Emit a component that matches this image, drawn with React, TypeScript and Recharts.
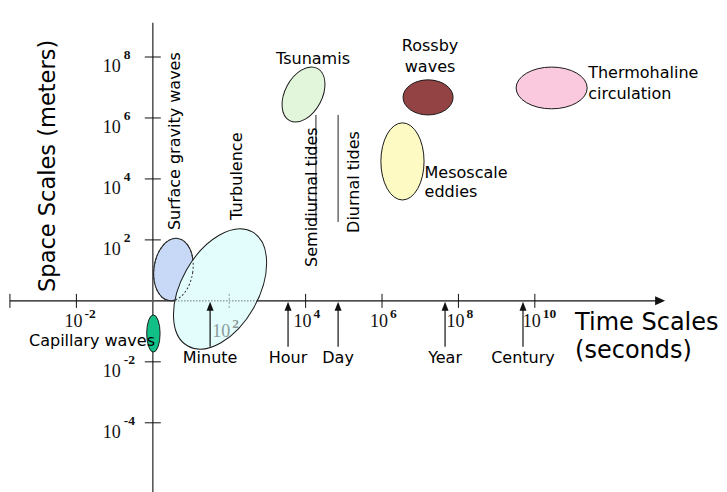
import React from 'react';
import { ComposedChart, XAxis, YAxis, ReferenceArea, ReferenceLine, ReferenceDot, Scatter } from 'recharts';

// ---- scales (log10 units) ----
const X_DOMAIN: [number, number] = [-4, 15.03];
const Y_DOMAIN: [number, number] = [-6.27, 9.87];
const timeAxisRange = [-3.74, 13.41];
const spaceAxisRange = [-6.27, 9.12];

// ---- phenomena: log10 time range (s) and log10 space range (m) ----
const phenomena = [
  'Surface gravity waves',
  'Turbulence',
  'Capillary waves',
  'Tsunamis',
  'Rossby waves',
  'Thermohaline circulation',
  'Mesoscale eddies',
];
const timeMin = [0.03, 0.75, -0.16, 3.46, 6.55, 9.51, 5.97];
const timeMax = [1.05, 2.77, 0.19, 4.43, 7.86, 11.37, 7.1];
const spaceMin = [0.0, -1.76, -1.68, 5.8, 6.1, 6.3, 3.31];
const spaceMax = [2.06, 2.54, -0.46, 7.74, 7.25, 7.67, 5.84];

// ---- tides (vertical bars) ----
const tides = ['Semidiurnal tides', 'Diurnal tides'];
const tideTime = [4.27, 4.85];
const tideSpaceMin = [2.59, 2.59];
const tideSpaceMax = [6.1, 6.1];

// ---- time markers ----
const markers = ['Minute', 'Hour', 'Day', 'Year', 'Century'];
const markerTime = [1.5, 3.54, 4.85, 7.65, 9.69];

// ---- ticks ----
const xTickValues = [-2, 2, 4, 6, 8, 10];
const xTickLabels = ['-2', '2', '4', '6', '8', '10'];
const yTickValues = [8, 6, 4, 2, -2, -4];
const yTickLabels = ['8', '6', '4', '2', '-2', '-4'];
const mutedXTicks = [2];

// ---- styles ----
const SANS = '"DejaVu Sans", Verdana, sans-serif';
const SERIF = '"Liberation Serif", "DejaVu Serif", serif';

const ellipseStyle: Record<string, { fill: string; rotate: number }> = {
  'Surface gravity waves': { fill: '#c7d9f6', rotate: 8 },
  Turbulence: { fill: '#e3fcfc', rotate: 29.5 },
  'Capillary waves': { fill: '#12bf86', rotate: 0 },
  Tsunamis: { fill: '#e2f6dc', rotate: 28 },
  'Rossby waves': { fill: '#934343', rotate: 0 },
  'Thermohaline circulation': { fill: '#fbc9dd', rotate: 0 },
  'Mesoscale eddies': { fill: '#fdfac3', rotate: 0 },
};

type LabelSpec = {
  lines: string[];
  anchor: 'top' | 'right' | 'center';
  dx: number;
  dy: number[];
  rotate?: number;
  textAnchor: 'start' | 'middle' | 'end';
};

const labelStyle: Record<string, LabelSpec> = {
  'Surface gravity waves': { lines: ['Surface gravity waves'], anchor: 'top', dx: 6.6, dy: [-8], rotate: -90, textAnchor: 'start' },
  Turbulence: { lines: ['Turbulence'], anchor: 'top', dx: 22, dy: [-3.5], rotate: -90, textAnchor: 'start' },
  'Capillary waves': { lines: ['Capillary waves'], anchor: 'center', dx: 1.6, dy: [13], textAnchor: 'end' },
  Tsunamis: { lines: ['Tsunamis'], anchor: 'top', dx: 9.5, dy: [-1], textAnchor: 'middle' },
  'Rossby waves': { lines: ['Rossby', 'waves'], anchor: 'top', dx: 2, dy: [-29, -8], textAnchor: 'middle' },
  'Thermohaline circulation': { lines: ['Thermohaline', 'circulation'], anchor: 'right', dx: 1, dy: [-10, 11], textAnchor: 'start' },
  'Mesoscale eddies': { lines: ['Mesoscale', 'eddies'], anchor: 'right', dx: 0.5, dy: [16.5, 35.5], textAnchor: 'start' },
};

const tideLabelOffset: Record<string, { dx: number; dy: number }> = {
  'Semidiurnal tides': { dx: 1, dy: 45 },
  'Diurnal tides': { dx: 21, dy: 11 },
};

const TextBlock = ({ cx, cy, spec, size = 16 }: { cx: number; cy: number; spec: LabelSpec; size?: number }) => (
  <g>
    {spec.lines.map((ln, k) => {
      const tx = cx + spec.dx;
      const ty = cy + spec.dy[k];
      return (
        <text
          key={k}
          x={tx}
          y={ty}
          textAnchor={spec.textAnchor}
          fontFamily={SANS}
          fontSize={size}
          fill="#000"
          transform={spec.rotate ? `rotate(${spec.rotate} ${tx} ${ty})` : undefined}
        >
          {ln}
        </text>
      );
    })}
  </g>
);

const makeEllipse = (fill: string, rotate: number, stroke = '#1a1a1a', dash?: string) => (p: any) => {
  const w = Math.abs(p.width);
  const h = Math.abs(p.height);
  const x = Math.min(p.x, p.x + p.width);
  const y = Math.min(p.y, p.y + p.height);
  const cx = x + w / 2;
  const cy = y + h / 2;
  return (
    <ellipse
      cx={cx}
      cy={cy}
      rx={w / 2}
      ry={h / 2}
      fill={fill}
      stroke={stroke}
      strokeWidth={1}
      strokeDasharray={dash}
      transform={rotate ? `rotate(${rotate} ${cx} ${cy})` : undefined}
    />
  );
};

const xTickData = xTickValues
  .map((v, i) => ({ x: v, y: 0, exp: xTickLabels[i] }))
  .filter((d) => !mutedXTicks.includes(d.x));
const mutedTickData = xTickValues
  .map((v, i) => ({ x: v, y: 0, exp: xTickLabels[i] }))
  .filter((d) => mutedXTicks.includes(d.x));
const yTickData = yTickValues.map((v, i) => ({ x: 0, y: v, exp: yTickLabels[i] }));
const markerData = markers.map((m, i) => ({ x: markerTime[i], y: 0, label: m }));

const XTick = (p: any) => {
  const { cx, cy, payload } = p;
  const muted = mutedXTicks.includes(payload.x);
  const col = muted ? '#8c9a9a' : '#111';
  return (
    <g>
      <line x1={cx} x2={cx} y1={cy - 7} y2={cy + 7} stroke={col} strokeWidth={1} strokeDasharray={muted ? '2 2' : undefined} />
      <text x={cx - (muted ? 17 : 12)} y={cy + (muted ? 36 : 26)} fontFamily={SERIF} fontSize={18} fill={col}>
        10
        <tspan dx={2} dy={-9} fontSize={13.5} fontWeight="bold">
          {payload.exp}
        </tspan>
      </text>
    </g>
  );
};

const YTick = (p: any) => {
  const { cx, cy, payload } = p;
  return (
    <g>
      <line x1={cx - 8} x2={cx + 8} y1={cy} y2={cy} stroke="#111" strokeWidth={1} />
      <text x={cx - 50} y={cy + 15} fontFamily={SERIF} fontSize={18} fill="#111">
        10
        <tspan dx={3} dy={-13} fontSize={13.5} fontWeight="bold">
          {payload.exp}
        </tspan>
      </text>
    </g>
  );
};

const MarkerArrow = (p: any) => {
  const { cx, cy, payload } = p;
  return (
    <g>
      <line x1={cx} x2={cx} y1={cy + 46} y2={cy + 6} stroke="#111" strokeWidth={1.2} />
      <polygon points={`${cx},${cy + 1} ${cx - 3.5},${cy + 10} ${cx + 3.5},${cy + 10}`} fill="#111" />
      <text x={cx} y={cy + 62} textAnchor="middle" fontFamily={SANS} fontSize={16} fill="#000">
        {payload.label}
      </text>
    </g>
  );
};

const XAxisLine = (p: any) => {
  const { x1, y1, x2, y2 } = p;
  return (
    <g>
      <line x1={x1} y1={y1} x2={x2 - 6} y2={y2} stroke="#111" strokeWidth={1.3} />
      <polygon points={`${x2},${y2} ${x2 - 10},${y2 - 4.5} ${x2 - 10},${y2 + 4.5}`} fill="#111" />
      <line x1={x1} x2={x1} y1={y1 - 7} y2={y1 + 7} stroke="#111" strokeWidth={1} />
    </g>
  );
};

const iTurb = phenomena.indexOf('Turbulence');
const iSgw = phenomena.indexOf('Surface gravity waves');

export default function App() {
  return (
    <div style={{ position: 'absolute', left: 0, top: 0, width: 727, height: 492, background: '#fff' }}>
      <ComposedChart width={727} height={492} margin={{ top: 0, right: 0, bottom: 0, left: 0 }}>
        <XAxis type="number" dataKey="x" domain={X_DOMAIN} hide allowDataOverflow />
        <YAxis type="number" dataKey="y" domain={Y_DOMAIN} hide allowDataOverflow />

        {/* axes */}
        <ReferenceLine
          segment={[{ x: timeAxisRange[0], y: 0 }, { x: timeAxisRange[1], y: 0 }]}
          ifOverflow="visible"
          shape={XAxisLine}
          zIndex={10}
        />
        <ReferenceLine
          segment={[{ x: 0, y: spaceAxisRange[1] }, { x: 0, y: spaceAxisRange[0] }]}
          ifOverflow="visible"
          stroke="#5a5a5a"
          strokeWidth={1.6}
          zIndex={10}
        />
        <Scatter data={xTickData} shape={XTick} isAnimationActive={false} zIndex={12} />
        <Scatter data={yTickData} shape={YTick} isAnimationActive={false} zIndex={12} />

        {/* phenomena ellipses */}
        {phenomena.map((name, i) => (
          <ReferenceArea
            key={name}
            x1={timeMin[i]}
            x2={timeMax[i]}
            y1={spaceMin[i]}
            y2={spaceMax[i]}
            ifOverflow="visible"
            shape={makeEllipse(ellipseStyle[name].fill, ellipseStyle[name].rotate)}
            zIndex={20 + i}
          />
        ))}

        {/* hidden outlines / ticks showing through turbulence */}
        <ReferenceArea
          x1={timeMin[iSgw]}
          x2={timeMax[iSgw]}
          y1={spaceMin[iSgw]}
          y2={spaceMax[iSgw]}
          ifOverflow="visible"
          shape={makeEllipse('none', ellipseStyle['Surface gravity waves'].rotate, '#333', '2 2')}
          zIndex={40}
        />
        <ReferenceLine
          segment={[{ x: timeMin[iTurb] - 0.16, y: 0 }, { x: timeMax[iTurb] - 0.04, y: 0 }]}
          ifOverflow="visible"
          stroke="#333"
          strokeWidth={1}
          strokeDasharray="1 2"
          zIndex={40}
        />
        <Scatter data={mutedTickData} shape={XTick} isAnimationActive={false} zIndex={42} />

        {/* tides */}
        {tides.map((name, i) => (
          <ReferenceLine
            key={name}
            segment={[{ x: tideTime[i], y: tideSpaceMin[i] }, { x: tideTime[i], y: tideSpaceMax[i] }]}
            ifOverflow="visible"
            stroke="#222"
            strokeWidth={1}
            zIndex={45}
          />
        ))}
        {tides.map((name, i) => (
          <ReferenceDot
            key={'tl' + name}
            x={tideTime[i]}
            y={tideSpaceMin[i]}
            r={1}
            ifOverflow="visible"
            zIndex={50}
            shape={(p: any) => (
              <TextBlock
                cx={p.cx}
                cy={p.cy}
                spec={{ lines: [name], anchor: 'top', dx: tideLabelOffset[name].dx, dy: [tideLabelOffset[name].dy], rotate: -90, textAnchor: 'start' }}
              />
            )}
          />
        ))}

        {/* phenomena labels */}
        {phenomena.map((name, i) => {
          const st = labelStyle[name];
          const ax = st.anchor === 'right' ? timeMax[i] : (timeMin[i] + timeMax[i]) / 2;
          const ay = st.anchor === 'top' ? spaceMax[i] : (spaceMin[i] + spaceMax[i]) / 2;
          return (
            <ReferenceDot
              key={'lab' + name}
              x={ax}
              y={ay}
              r={1}
              ifOverflow="visible"
              zIndex={60}
              shape={(p: any) => <TextBlock cx={p.cx} cy={p.cy} spec={st} />}
            />
          );
        })}

        {/* time markers */}
        <Scatter data={markerData} shape={MarkerArrow} isAnimationActive={false} zIndex={70} />

        {/* axis titles */}
        <ReferenceDot
          x={timeAxisRange[1]}
          y={0}
          r={1}
          ifOverflow="visible"
          zIndex={60}
          shape={(p: any) => (
            <TextBlock
              cx={p.cx}
              cy={p.cy}
              size={24}
              spec={{ lines: ['Time Scales', '(seconds)'], anchor: 'top', dx: -90, dy: [29, 57], textAnchor: 'start' }}
            />
          )}
        />
        <ReferenceDot
          x={timeAxisRange[0]}
          y={0}
          r={1}
          ifOverflow="visible"
          zIndex={60}
          shape={(p: any) => (
            <TextBlock
              cx={p.cx}
              cy={p.cy}
              size={22.5}
              spec={{ lines: ['Space Scales (meters)'], anchor: 'top', dx: 45, dy: [-135], rotate: -90, textAnchor: 'middle' }}
            />
          )}
        />
      </ComposedChart>
    </div>
  );
}
